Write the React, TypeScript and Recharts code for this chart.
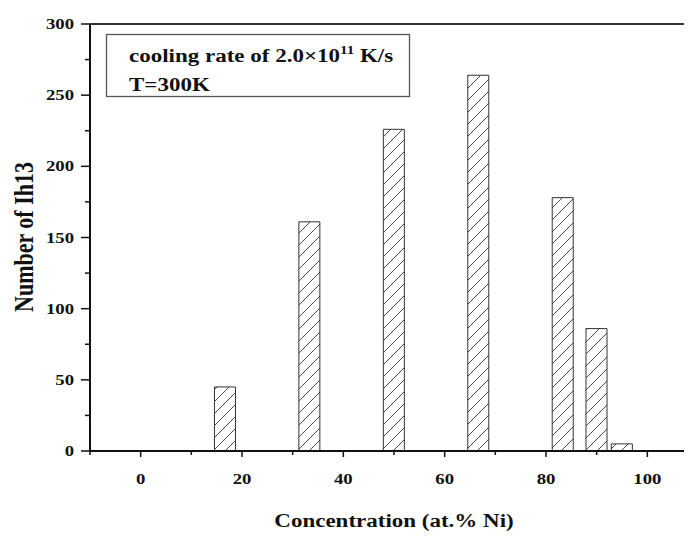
import React from 'react';
import { BarChart, Bar, XAxis, YAxis, ReferenceLine, Customized } from 'recharts';

const concentrations = [16.67, 33.33, 50, 66.67, 83.33, 90, 95];
const counts = [45, 161, 226, 264, 178, 86, 5];
const xTicks = [-10, 0, 10, 20, 30, 40, 50, 60, 70, 80, 90, 100, 110];
const xLabeled = [0, 20, 40, 60, 80, 100];
const yTicks = [0, 25, 50, 75, 100, 125, 150, 175, 200, 225, 250, 275, 300];
const yLabeled = [0, 50, 100, 150, 200, 250, 300];
const legendLine1 = 'cooling rate of 2.0×10';
const legendSup = '11';
const legendLine1End = ' K/s';
const legendLine2 = 'T=300K';
const xTitle = 'Concentration (at.% Ni)';
const yTitle = 'Number of Ih13';

const data = concentrations.map((c, i) => ({ c, n: counts[i] }));

const FONT = '"Liberation Serif", "Times New Roman", serif';
const INK = '#111';
const SX = 1.25;

const SText = ({ x, y, size, anchor = 'start', rotate = 0, children }: any) => (
  <text
    transform={`translate(${x},${y}) scale(${SX},1)${rotate ? ` rotate(${rotate})` : ''}`}
    x={0}
    y={0}
    textAnchor={anchor}
    fontFamily={FONT}
    fontWeight="bold"
    fontSize={size}
    fill={INK}
  >
    {children}
  </text>
);

const XTick = (props: any) => {
  const { x, y, payload } = props;
  const v = payload.value;
  const major = xLabeled.includes(v);
  return (
    <g>
      <line x1={x} x2={x} y1={y} y2={y + (major ? 6 : 4)} stroke={INK} strokeWidth={1.5} />
      {major && (
        <SText x={x} y={y + 33} size={15} anchor="middle">
          {v}
        </SText>
      )}
    </g>
  );
};

const YTick = (props: any) => {
  const { x, y, payload } = props;
  const v = payload.value;
  const major = yLabeled.includes(v);
  return (
    <g>
      <line x1={x} x2={x - (major ? 9 : 5)} y1={y} y2={y} stroke={INK} strokeWidth={1.5} />
      {major && (
        <SText x={x - 16} y={y + 5} size={15} anchor="end">
          {v}
        </SText>
      )}
    </g>
  );
};

const Extras = () => (
  <g>
    <rect x={98.5} y={26.5} width={303} height={62} fill="none" stroke="#555" strokeWidth={1.3} />
    <SText x={121} y={54} size={18.4}>
      {legendLine1}
      <tspan dy={-8} fontSize={12}>{legendSup}</tspan>
      <tspan dy={8}>{legendLine1End}</tspan>
    </SText>
    <SText x={121} y={82.5} size={18.4}>
      {legendLine2}
    </SText>
    <SText x={386} y={519} size={18.4} anchor="middle">
      {xTitle}
    </SText>
    <SText x={25} y={229} size={22} anchor="middle" rotate={-90}>
      {yTitle}
    </SText>
  </g>
);

export default function App() {
  return (
    <div style={{ width: 684, height: 535, overflow: 'hidden', background: '#fff' }}>
      <BarChart width={720} height={535} data={data} margin={{ top: 16, right: 30, left: 10, bottom: 32 }}>
        <defs>
          <pattern id="hatch" patternUnits="userSpaceOnUse" width={12} height={12}>
            <path d="M-3,3 L3,-3 M0,12 L12,0 M9,15 L15,9" stroke="#333" strokeWidth={0.9} />
          </pattern>
        </defs>
        <XAxis
          dataKey="c"
          type="number"
          domain={[-10, 110]}
          ticks={xTicks}
          interval={0}
          height={60}
          tickSize={0}
          tickMargin={0}
          tickLine={false}
          tick={<XTick />}
          axisLine={{ stroke: INK, strokeWidth: 2 }}
          allowDataOverflow
        />
        <YAxis
          type="number"
          domain={[0, 300]}
          ticks={yTicks}
          interval={0}
          width={72}
          tickSize={0}
          tickMargin={0}
          tickLine={false}
          tick={<YTick />}
          axisLine={{ stroke: INK, strokeWidth: 2 }}
          allowDataOverflow
        />
        <ReferenceLine y={300} stroke="#333" strokeWidth={2} />
        <ReferenceLine x={110} stroke="#333" strokeWidth={2} />
        <Bar dataKey="n" fill="url(#hatch)" stroke="#333" strokeWidth={1} barSize={21} isAnimationActive={false} />
        <Customized component={Extras} />
      </BarChart>
    </div>
  );
}
